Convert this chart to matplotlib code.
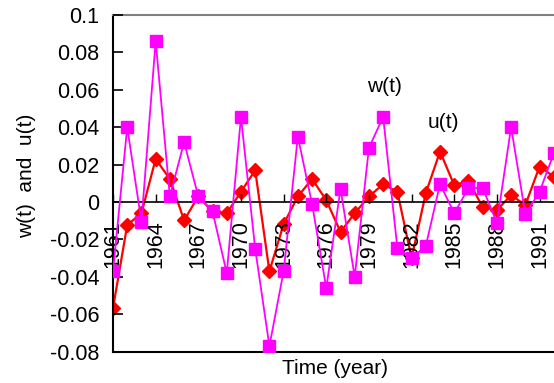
import matplotlib
matplotlib.use("Agg")
import matplotlib.pyplot as plt

plt.rcParams['font.family'] = ['Liberation Sans', 'DejaVu Sans']

# data
years = list(range(1961, 1993))
w_t = [-0.037, 0.040, -0.0105, 0.086, 0.003, 0.032, 0.003, -0.005, -0.038, 0.0455,
       -0.025, -0.077, -0.037, 0.035, -0.001, -0.046, 0.007, -0.040, 0.029, 0.0455,
       -0.0245, -0.030, -0.0235, 0.0097, -0.006, 0.0075, 0.0075, -0.011, 0.040, -0.0065,
       0.0055, 0.026]
u_t = [-0.0567, -0.0123, -0.006, 0.023, 0.0123, -0.0097, 0.003, -0.005, -0.006, 0.0055,
       0.017, -0.037, -0.0118, 0.003, 0.0123, 0.001, -0.016, -0.006, 0.003, 0.0095,
       0.0055, -0.030, 0.0048, 0.027, 0.009, 0.0113, -0.0027, -0.0043, 0.0037, -0.0016,
       0.019, 0.0136]
x_ticks = list(range(1961, 1992, 3))
y_ticks = [0.1, 0.08, 0.06, 0.04, 0.02, 0, -0.02, -0.04, -0.06, -0.08]
y_labels = ['0.1', '0.08', '0.06', '0.04', '0.02', '0', '-0.02', '-0.04', '-0.06', '-0.08']

fs = 15
fig = plt.figure(figsize=(5.54, 3.83), dpi=100)
W, H = 554, 383
# axes runs past the right edge of the picture, as in the original
ax = fig.add_axes([113 / W, (H - 351.7) / H, 455 / W, (351.7 - 15) / H])

ax.plot(years, u_t, color='#FF0000', lw=1.6, marker='D', markersize=7.5,
        markeredgecolor='#FF0000', zorder=2)
ax.plot(years, w_t, color='#FF00FF', lw=1.3, marker='s', markersize=8.5,
        markeredgecolor='#FF00FF', zorder=3)

ax.set_xlim(1961, 1993)
ax.set_ylim(-0.08, 0.1)
ax.set_axisbelow(False)

ax.spines['bottom'].set_position(('data', 0))
ax.spines['bottom'].set_linewidth(1.2)
ax.spines['left'].set_linewidth(1.5)
ax.spines['top'].set_color('#808080')
ax.spines['top'].set_linewidth(1.5)
ax.spines['right'].set_visible(False)
ax.axhline(-0.08, color='black', lw=1.5, clip_on=False)

ax.set_xticks(x_ticks)
ax.set_xticklabels([str(y) for y in x_ticks], rotation=90, fontsize=15.5, va='top')
ax.tick_params(axis='x', direction='in', length=6, width=1, pad=13)
ax.set_yticks(y_ticks)
ax.set_yticklabels(y_labels, fontsize=15.5)
ax.tick_params(axis='y', direction='in', length=7, width=1.2, pad=10)

fig.text(27 / W, 1 - 176 / H, 'w(t)  and  u(t)', rotation=90, fontsize=fs,
         ha='center', va='center')
fig.text(335 / W, 1 - 368 / H, 'Time (year)', fontsize=fs, ha='center', va='center')
fig.text(384 / W, 1 - 87 / H, 'w(t)', fontsize=fs, ha='center', va='center')
fig.text(443 / W, 1 - 122 / H, 'u(t)', fontsize=fs, ha='center', va='center')

fig.savefig('out.png', dpi=100)
